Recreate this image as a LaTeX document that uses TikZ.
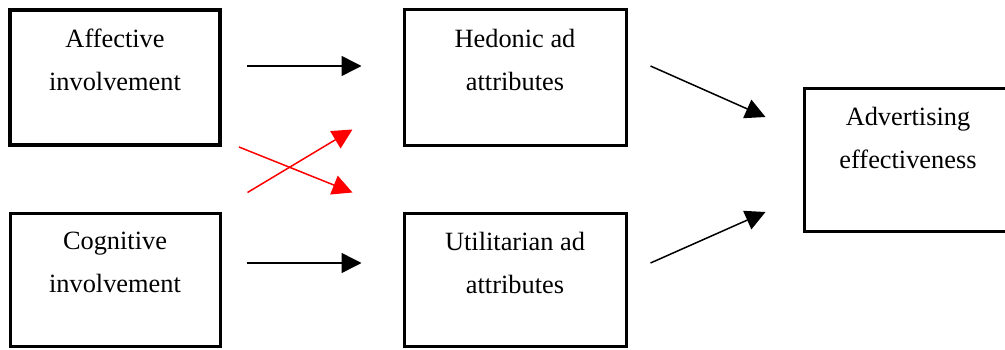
\documentclass[tikz,border=0pt]{standalone}
\usepackage{fontspec}
\setmainfont{Liberation Serif}
\usepackage{tikz}
\usetikzlibrary{arrows.meta}

\tikzset{
  box/.style={draw, line width=0.06cm, inner sep=0pt, rectangle},
  boxtext/.style={anchor=north, inner sep=0pt, align=center,
    font=\fontsize{15}{24.5}\selectfont},
  arr/.style={line width=0.03cm, -{Triangle[length=0.4cm, width=0.4cm]}},
  redarr/.style={arr, red}
}

\begin{document}
\begin{tikzpicture}
        \clip (0, 0) rectangle (20.1, 6.98);

        % Affective
        \node [box, line width=0.08cm, minimum width=4.2cm, minimum height=2.7cm]
          (aff) at (2.3, 5.43) {};
        \node [boxtext] (afftext) at (2.3, 6.4) {Affective\\involvement};

        % Cognitive
        \node [box, minimum width=4.2cm, minimum height=2.66cm]
          (cog) at (2.3, 1.39) {};
        \node [boxtext] (cogtext) at (2.3, 2.34) {Cognitive\\involvement};

        % Hedonic
        \node [box, minimum width=4.44cm, minimum height=2.7cm]
          (hed) at (10.3, 5.43) {};
        \node [boxtext] (hedtext) at (10.3, 6.4) {Hedonic ad\\attributes};

        % Utilitarian
        \node [box, minimum width=4.44cm, minimum height=2.66cm]
          (uti) at (10.3, 1.39) {};
        \node [boxtext] (utitext) at (10.3, 2.34) {Utilitarian ad\\attributes};

        % Advertising effectiveness
        \node [box, minimum width=4.16cm, minimum height=2.86cm]
          (adv) at (18.16, 3.79) {};
        \node [boxtext] (advtext) at (18.16, 4.84) {Advertising\\effectiveness};

        % straight arrows
        \draw [arr] ([xshift=0.5cm, yshift=0.23cm]aff.east)
          -- ([xshift=-0.82cm, yshift=0.23cm]hed.west);
        \draw [arr] ([xshift=0.5cm, yshift=0.33cm]cog.east)
          -- ([xshift=-0.82cm, yshift=0.33cm]uti.west);

        % the cross
        \draw [redarr] ([xshift=0.34cm]aff.south east)
          -- ([xshift=-1.0cm, yshift=0.38cm]uti.north west);
        \draw [redarr] ([xshift=0.52cm, yshift=0.38cm]cog.north east)
          -- ([xshift=-1.0cm, yshift=0.34cm]hed.south west);

        % to advertising effectiveness
        \draw [arr] ([xshift=0.46cm, yshift=0.23cm]hed.east)
          -- ([xshift=-0.74cm, yshift=0.85cm]adv.west);
        \draw [arr] ([xshift=0.46cm, yshift=0.33cm]uti.east)
          -- ([xshift=-0.74cm, yshift=-1.05cm]adv.west);

      \end{tikzpicture}
\end{document}
